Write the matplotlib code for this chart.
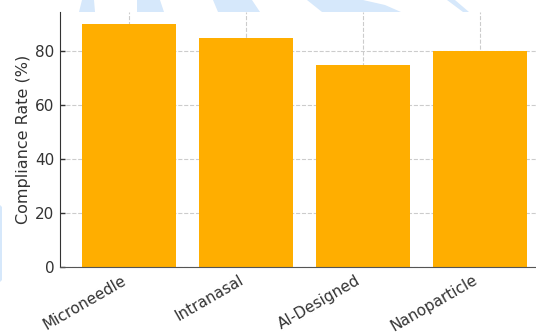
import matplotlib
matplotlib.use("Agg")
import matplotlib.pyplot as plt
from matplotlib.patches import Polygon

categories = ["Microneedle", "Intranasal", "AI-Designed", "Nanoparticle"]
compliance = [90, 85, 75, 80]

W, H = 536, 333
fig = plt.figure(figsize=(W / 100, H / 100), dpi=100)

# Axes extends slightly beyond the right edge of the canvas
left, right, top, bottom = 60, 549, 12, 267
ax = fig.add_axes([left / W, 1 - bottom / H, (right - left) / W, (bottom - top) / H])

ax.bar(categories, compliance, color="#ffae00", width=0.8, zorder=2)
ax.set_ylim(0, 94.5)
ax.set_xlim(-0.59, 3.59)
ax.set_ylabel("Compliance Rate (%)", fontsize=11.5, color="#333333", labelpad=3)
ax.set_yticks([0, 20, 40, 60, 80])
ax.tick_params(axis="both", labelsize=11, colors="#333333", length=3.5, width=1,
               direction="in", pad=4)
plt.setp(ax.get_xticklabels(), rotation=30, ha="right")
ax.grid(True, linestyle="--", color="#cccccc", linewidth=0.8, zorder=0)
ax.set_axisbelow(True)
for side in ("top", "right"):
    ax.spines[side].set_visible(False)
ax.spines["left"].set_color("#333333")
ax.spines["bottom"].set_color("#555555")

# Faint light-blue background shapes along the top and left edges
shapes = [
    [(79, 12), (82, 0), (94, 0), (95, 12)],
    [(137, 12), (137, 0), (160, 0), (164, 12)],
    [(218, 12), (213, 0), (252, 0), (260, 12)],
    [(322, 12), (307, 0), (363, 0), (385, 5), (401, 12)],
    [(463, 12), (447, 0), (455, 0), (469, 12)],
    [(0, 205), (2, 207), (2, 280), (0, 282)],
]
for pts in shapes:
    fig.patches.append(Polygon([(x / W, 1 - y / H) for x, y in pts], closed=True,
                               transform=fig.transFigure, facecolor="#d6e8fb",
                               edgecolor="none", zorder=0))

fig.savefig("out.png", dpi=100)
